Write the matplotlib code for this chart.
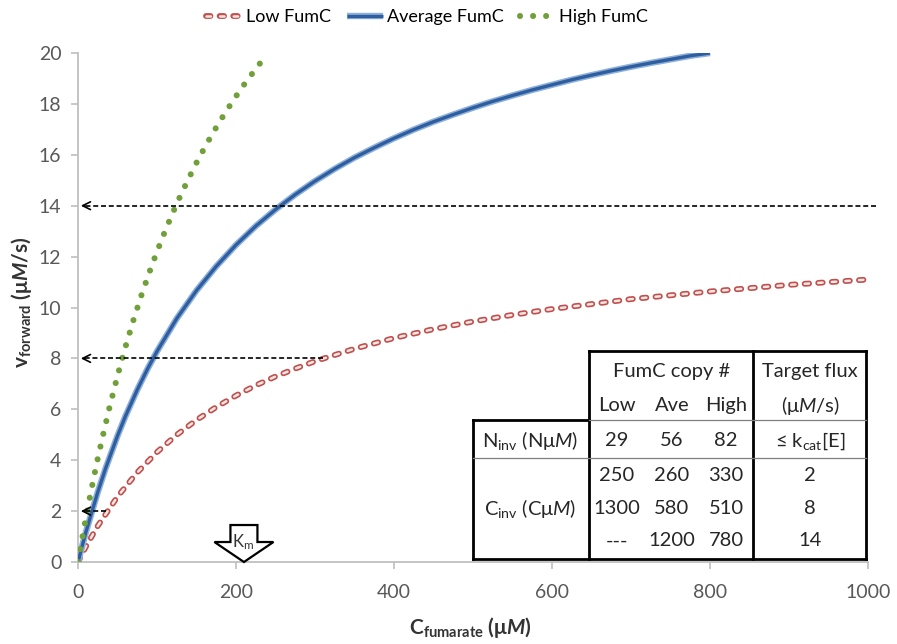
import numpy as np
import matplotlib
matplotlib.use('Agg')
import matplotlib.pyplot as plt
import matplotlib.transforms as mtransforms
from matplotlib.patches import Polygon, Rectangle
from matplotlib.legend_handler import HandlerTuple

plt.rcParams['font.family'] = ['Lato', 'DejaVu Sans']
plt.rcParams['mathtext.fontset'] = 'custom'
plt.rcParams['mathtext.rm'] = 'Lato'
plt.rcParams['mathtext.it'] = 'Lato:italic'
plt.rcParams['mathtext.bf'] = 'Lato:bold'
plt.rcParams['mathtext.bfit'] = 'Lato:bold:italic'
plt.rcParams['lines.scale_dashes'] = False

# fumarate concentration (uM) vs forward rate (uM/s)
low_x = [0, 5, 10, 25, 50, 75, 100, 125, 150, 175, 200, 225, 250, 275, 300, 350, 400, 450, 500, 550,
         600, 700, 800, 900, 1000]
low_v = [0, 0.31, 0.61, 1.42, 2.57, 3.52, 4.32, 5.00, 5.58, 6.09, 6.54, 6.94, 7.29, 7.60, 7.89, 8.38,
         8.80, 9.15, 9.45, 9.71, 9.94, 10.33, 10.63, 10.89, 11.10]

ave_x = [0, 5, 10, 25, 35, 50, 60, 75, 88, 100, 125, 150, 175, 200, 225, 250, 275, 300, 325, 350, 375,
         400, 425, 450, 475, 500, 525, 550, 575, 600, 625, 650, 675, 700, 725, 750, 775, 800]
ave_v = [0, 0.60, 1.18, 2.75, 3.69, 4.96, 5.73, 6.77, 7.59, 8.28, 9.57, 10.67, 11.62, 12.46, 13.20,
         13.85, 14.44, 14.97, 15.45, 15.89, 16.28, 16.65, 16.99, 17.30, 17.58, 17.85, 18.10, 18.33,
         18.55, 18.75, 18.95, 19.13, 19.30, 19.46, 19.61, 19.75, 19.89, 20.0]

high_x = [0, 5, 10, 15, 20, 25, 30, 40, 50, 60, 70, 80, 90, 100, 110, 120, 130, 140, 150, 160, 170,
          180, 190, 200, 210, 220, 230, 238]
high_v = [0, 0.89, 1.74, 2.55, 3.33, 4.07, 4.77, 6.10, 7.32, 8.45, 9.49, 10.46, 11.36, 12.20, 12.99,
          13.73, 14.42, 15.07, 15.69, 16.27, 16.82, 17.34, 17.83, 18.30, 18.75, 19.17, 19.58, 19.88]

# target fluxes and where each dashed read-off arrow starts
target_flux = [2, 8, 14]
arrow_start = [35, 310, 1010]
km = 210

# inset table
col_heads = ['Low', 'Ave', 'High']
n_inv = ['29', '56', '82']
c_inv = [['250', '260', '330'], ['1300', '580', '510'], ['---', '1200', '780']]
flux_col = ['2', '8', '14']

fig = plt.figure(figsize=(8.97, 6.44), dpi=100)
ax = fig.add_axes([0.087, 0.1273, 0.8807, 0.7904])

# Low: hollow red dashes (outline + pale core)
l1, = ax.plot(low_x, low_v, color='#C0504D', lw=4.2, dashes=(3.2, 6.6), dash_capstyle='round', zorder=3)
l2, = ax.plot(low_x, low_v, color='#F8E6E5', lw=1.8, dashes=(3.2, 6.6), dash_capstyle='round', zorder=3)
# Average: blue line with light halo
a1, = ax.plot(ave_x, ave_v, color='#8DB0DC', lw=4.6, solid_capstyle='butt', zorder=4)
a2, = ax.plot(ave_x, ave_v, color='#2F5E9F', lw=2.4, solid_capstyle='butt', zorder=4)
# High: green round dots
h1, = ax.plot(high_x, high_v, color='#71A03A', lw=4.4, dashes=(0.01, 9.4), dash_capstyle='round', zorder=5)

for f, xs in zip(target_flux, arrow_start):
    ax.plot([xs, 8], [f, f], color='black', lw=1.2, dashes=(3.6, 2.0), clip_on=False, zorder=6)
    ax.annotate('', xy=(0, f), xytext=(12, f),
                arrowprops=dict(arrowstyle='->', color='black', lw=1.2, mutation_scale=14),
                annotation_clip=False, zorder=6)

ax.set_xlim(0, 1000)
ax.set_ylim(0, 20)
ax.set_xticks(np.arange(0, 1001, 200))
ax.set_yticks(np.arange(0, 21, 2))
for s in ['top', 'right']:
    ax.spines[s].set_visible(False)
for s in ['left', 'bottom']:
    ax.spines[s].set_color('#BFBFBF')
    ax.spines[s].set_linewidth(1.3)
ax.tick_params(direction='out', length=5, width=1.2, color='#BFBFBF', labelcolor='#595959', labelsize=14)
ax.tick_params(axis='y', pad=7)
ax.tick_params(axis='x', pad=11)

# Km block arrow sitting on the x axis
ktr = fig.dpi_scale_trans + mtransforms.ScaledTranslation(km, 0, ax.transData)
ax.add_patch(Polygon([(0, 0), (0.295, 0.20), (0.135, 0.20), (0.135, 0.37), (-0.135, 0.37),
                      (-0.135, 0.20), (-0.295, 0.20)], closed=True, facecolor='white',
                     edgecolor='black', lw=1.6, transform=ktr, clip_on=False, zorder=7))
ax.text(-0.01, 0.20, r'K$_\mathregular{m}$', transform=ktr, ha='center', va='center',
        fontsize=12, color='#333333', zorder=8)

fig.text(0.524, 0.025, r'$\mathbf{C}_{\mathbf{fumarate}}$ (μ$\mathbfit{M}$)', ha='center', va='center',
         fontsize=15, fontweight='bold', color='#333333')
fig.text(0.024, 0.53, r'$\mathbf{v}_{\mathbf{forward}}$ (μ$\mathbfit{M}$/s)', ha='center', va='center',
         rotation=90, fontsize=15, fontweight='bold', color='#333333')

fig.legend([(l1, l2), (a1, a2), h1], ['Low FumC', 'Average FumC', 'High FumC'],
           handler_map={tuple: HandlerTuple(ndivide=1)}, loc='center', bbox_to_anchor=(0.476, 0.973),
           ncol=3, frameon=False, fontsize=13, handlelength=2.0, handletextpad=0.2, columnspacing=0.9)

# table, laid out in pixel coordinates of the figure
pix = mtransforms.Affine2D().scale(1 / 897, -1 / 644).translate(0, 1) + fig.transFigure
fig.patches.append(Rectangle((473, 420), 393, 139, transform=pix, facecolor='white', edgecolor='none', zorder=9))
fig.patches.append(Rectangle((589, 351), 277, 69, transform=pix, facecolor='white', edgecolor='none', zorder=9))
thick = dict(color='black', lw=2.0, transform=pix, zorder=10, solid_capstyle='projecting')
thin = dict(color='#7F7F7F', lw=0.9, transform=pix, zorder=10)
fig.lines.extend([
    plt.Line2D([589, 866], [351, 351], **thick),
    plt.Line2D([589, 589], [351, 559], **thick),
    plt.Line2D([753, 753], [351, 559], **thick),
    plt.Line2D([866, 866], [351, 559], **thick),
    plt.Line2D([473, 589], [420, 420], **thick),
    plt.Line2D([473, 473], [420, 559], **thick),
    plt.Line2D([473, 866], [559, 559], **thick),
    plt.Line2D([589, 866], [420, 420], **thin),
    plt.Line2D([473, 866], [458, 458], **thin),
])
tk = dict(transform=pix, ha='center', va='center', fontsize=14.5, color='#262626', zorder=11)
col_x = [617, 672, 726]
fig.text(672, 372, 'FumC copy #', **tk)
fig.text(810, 372, 'Target flux', **tk)
fig.text(810, 406, '(μ$\\mathit{M}$/s)', **tk)
for cx, h in zip(col_x, col_heads):
    fig.text(cx, 406, h, **tk)
fig.text(530, 441, 'N$_\\mathregular{inv}$ (Nμ$\\mathit{M}$)', **tk)
for cx, v in zip(col_x, n_inv):
    fig.text(cx, 441, v, **tk)
fig.text(810, 441, '≤ k$_\\mathregular{cat}$[E]', **tk)
fig.text(530, 508, 'C$_\\mathregular{inv}$ (Cμ$\\mathit{M}$)', **tk)
for ry, row, fl in zip([476, 508, 541], c_inv, flux_col):
    for cx, v in zip(col_x, row):
        fig.text(cx, ry, v, **tk)
    fig.text(810, ry, fl, **tk)

fig.savefig('out.png', dpi=100)
